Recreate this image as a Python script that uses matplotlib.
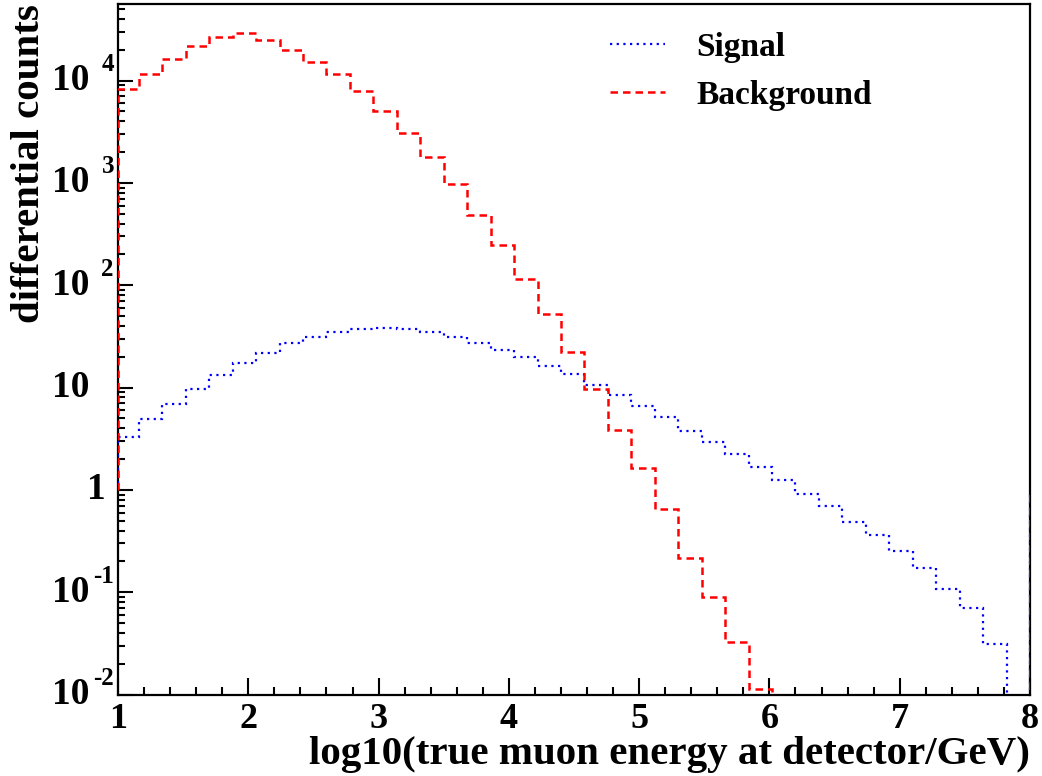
import numpy as np
import matplotlib.pyplot as plt
from matplotlib.ticker import MultipleLocator, LogLocator, NullFormatter, FixedLocator
from matplotlib import transforms

plt.rcParams['font.family'] = 'Liberation Serif'
plt.rcParams['font.weight'] = 'bold'

# --- дані ---
# 50 бінів від -1 до 8, показано лише діапазон [1, 8]
x_min, x_max = 1.0, 8.0
bin_edges = np.clip(np.linspace(-1, 8, 51)[11:], x_min, x_max)

signal = [3.27, 4.90, 6.87, 9.76, 13.2, 17.3, 21.9, 27.1, 31.2, 34.7,
          37.1, 38.0, 37.1, 34.7, 31.2, 27.3, 23.3, 19.8, 16.3, 13.5,
          10.7, 8.41, 6.61, 5.13, 3.79, 2.92, 2.23, 1.68, 1.24, 0.92,
          0.70, 0.489, 0.362, 0.253, 0.171, 0.108, 0.0697, 0.0312, 0.0]

background = [8240, 11620, 16180, 21810, 26920, 29060, 25000, 19950, 15230, 11550,
              7930, 5020, 3060, 1796, 977, 487, 246, 115, 52.0, 22.1,
              9.6, 3.86, 1.63, 0.655, 0.214, 0.0897, 0.0326, 0.0112, 0.0,
              0.0, 0.0, 0.0, 0.0, 0.0, 0.0, 0.0, 0.0, 0.0, 0.0]

y_min, y_max = 1e-2, 5.6e4
decades = [-2, -1, 0, 1, 2, 3, 4]

W, H = 1042, 776
fig = plt.figure(figsize=(W / 100, H / 100), dpi=100)
ax = fig.add_axes([118 / W, 1 - 694.5 / H, (1030 - 118) / W, (694.5 - 4) / H])

ax.stairs(signal, bin_edges, baseline=1, color='blue', linewidth=1.6,
          linestyle=(0, (1, 2.0)), label='Signal', zorder=3)
ax.stairs(background, bin_edges, baseline=1, color='red', linewidth=1.8,
          linestyle=(0, (3, 2)), label='Background', zorder=3)

ax.set_yscale('log')
ax.set_xlim(x_min, x_max)
ax.set_ylim(y_min, y_max)

# осі в стилі ROOT
for s in ax.spines.values():
    s.set_linewidth(1.6)
ax.xaxis.set_major_locator(MultipleLocator(1))
ax.xaxis.set_minor_locator(MultipleLocator(0.2))
ax.yaxis.set_major_locator(FixedLocator([10.0 ** k for k in decades]))
ax.yaxis.set_minor_locator(LogLocator(base=10, subs=np.arange(2, 10)))
ax.yaxis.set_major_formatter(NullFormatter())
ax.yaxis.set_minor_formatter(NullFormatter())
ax.tick_params(axis='both', which='both', direction='in', width=1.5,
               top=False, right=False)
ax.tick_params(axis='x', which='major', length=12, pad=6, labelsize=26)
ax.tick_params(axis='x', which='minor', length=6)
ax.tick_params(axis='y', which='major', length=11)
ax.tick_params(axis='y', which='minor', length=5)

# підписи осі Y: "10" і показник степеня окремо
tr = transforms.blended_transform_factory(fig.transFigure, ax.transData)
up = tr + transforms.ScaledTranslation(0, 0.16, fig.dpi_scale_trans)
for k in decades:
    v = 10.0 ** k
    if k == 0:
        fig.text(106 / W, v, '1', transform=tr, ha='right', va='center', fontsize=27)
    else:
        fig.text(89 / W, v, '10', transform=tr, ha='right', va='center', fontsize=27)
        if k != 1:
            fig.text(114 / W, v, str(k), transform=up, ha='right', va='center', fontsize=18)

fig.text(1030 / W, 1 - 764 / H, 'log10(true muon energy at detector/GeV)',
         ha='right', va='baseline', fontsize=29.5)
fig.text(30 / W, 1 - 4 / H, 'differential counts', rotation=90,
         ha='center', va='top', fontsize=29.5)

ax.legend(loc='upper left', bbox_to_anchor=(610 / W, 1 - 32 / H),
          bbox_transform=fig.transFigure, frameon=False, fontsize=24,
          handlelength=1.65, handletextpad=0.95, borderpad=0,
          borderaxespad=0, labelspacing=0.5)

fig.savefig('out.png', dpi=100)
